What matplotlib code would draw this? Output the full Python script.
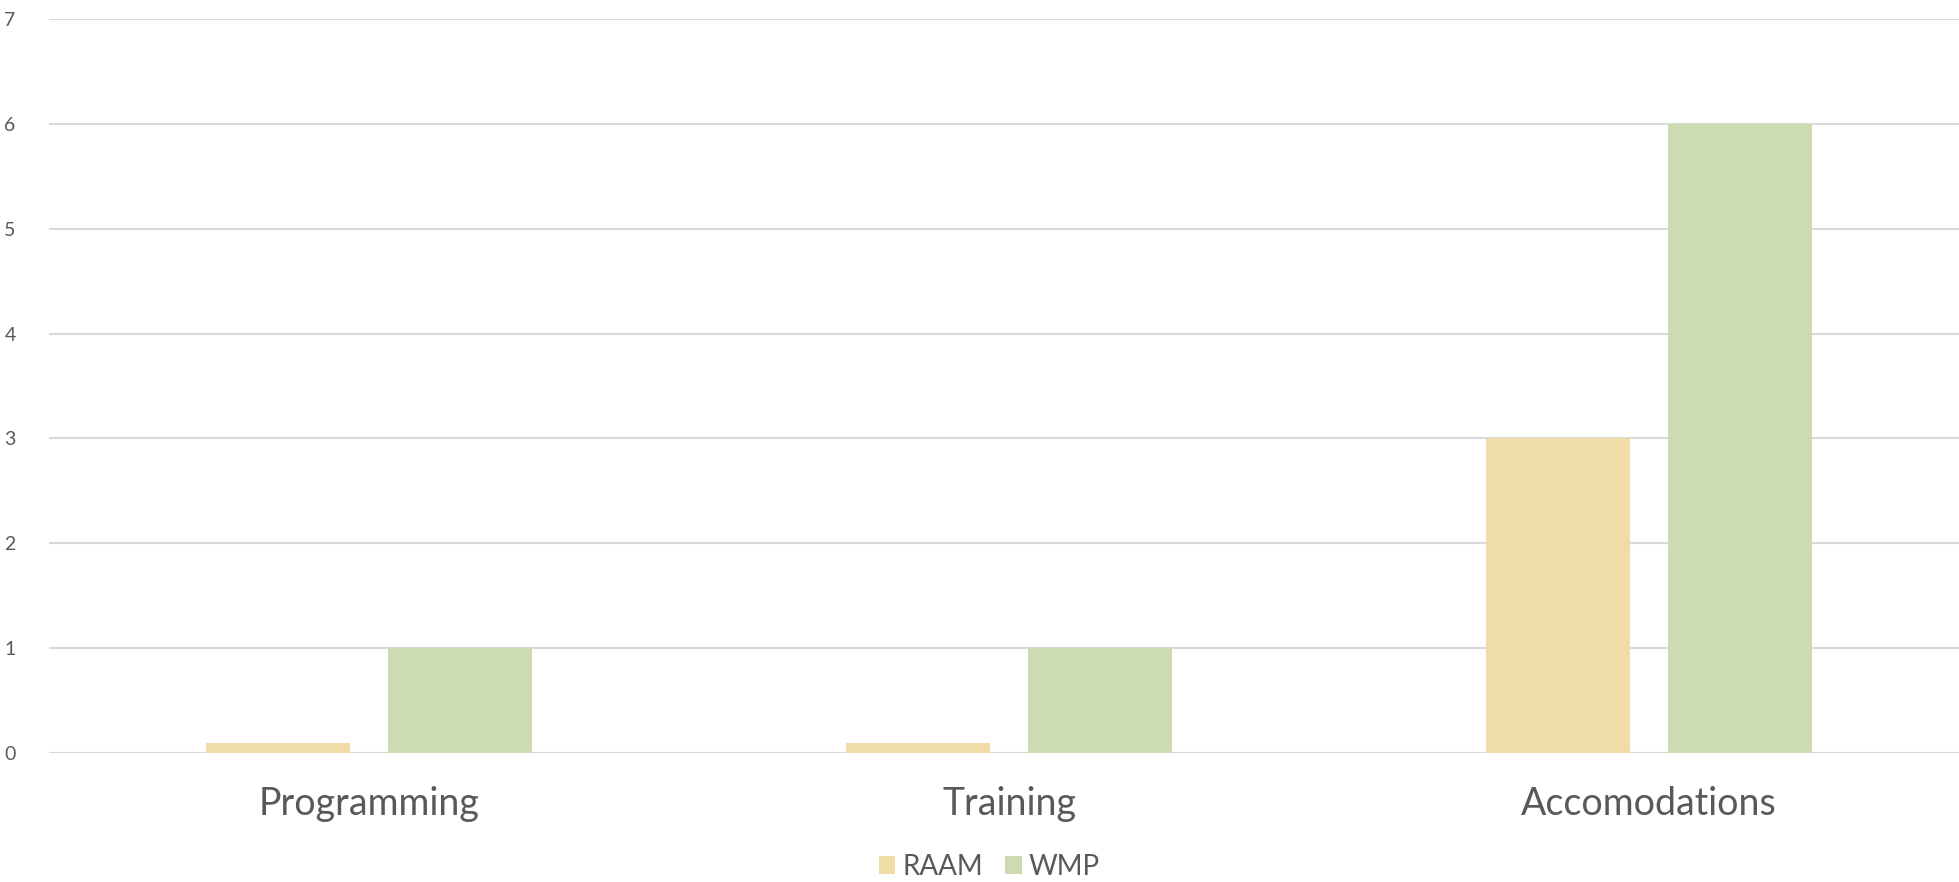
import matplotlib
matplotlib.use("Agg")
import matplotlib.pyplot as plt
import numpy as np

categories = ["Programming", "Training", "Accomodations"]
raam = [0.1, 0.1, 3]
wmp = [1, 1, 6]
series_names = ["RAAM", "WMP"]
colors = ["#F0DCA6", "#CCDBB0"]
y_ticks = [0, 1, 2, 3, 4, 5, 6, 7]

text_color = "#595959"
plt.rcParams["font.family"] = ["Lato", "DejaVu Sans"]

W, H = 1959, 882
fig = plt.figure(figsize=(W / 100, H / 100), dpi=100)
left_px, right_px = 49, 1959
bottom_px, top_px = 753, 19
ax = fig.add_axes([left_px / W, 1 - bottom_px / H,
                   (right_px - left_px) / W, (bottom_px - top_px) / H])

x = np.arange(len(categories))
bw = 0.225
off = 0.1425
ax.bar(x - off, raam, width=bw, color=colors[0], label=series_names[0], zorder=3)
ax.bar(x + off, wmp, width=bw, color=colors[1], label=series_names[1], zorder=3)

ax.set_xlim(-0.5, 2.484)
ax.set_ylim(0, 7)
ax.set_yticks(y_ticks)
ax.yaxis.grid(True, color="#D9D9D9", linewidth=1.5, zorder=0)
ax.set_axisbelow(True)
for s in ["top", "right", "left", "bottom"]:
    ax.spines[s].set_visible(False)
ax.axhline(0, color="#D9D9D9", linewidth=1.5, zorder=1)

ax.set_xticks(x)
ax.set_xticklabels(categories, fontsize=27, color=text_color)
ax.tick_params(axis="x", length=0, pad=24)
ax.tick_params(axis="y", length=0, pad=24, labelsize=14, labelcolor=text_color)

leg = fig.legend(loc="center", bbox_to_anchor=(0.505, 1 - 867 / H), ncol=2,
                 frameon=False, fontsize=20, handlelength=0.6, handleheight=0.6,
                 handletextpad=0.25, columnspacing=0.8, labelcolor=text_color)

fig.savefig("out.png", dpi=100, facecolor="white")
